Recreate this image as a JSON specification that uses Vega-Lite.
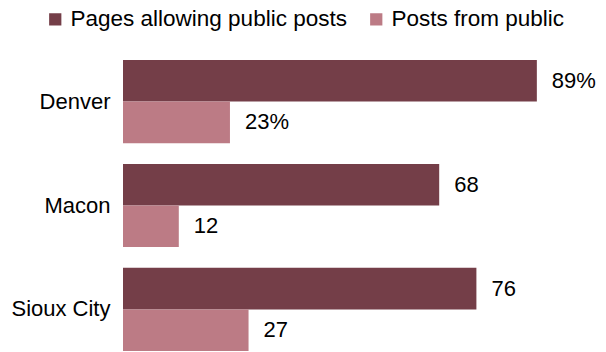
{
  "$schema": "https://vega.github.io/schema/vega-lite/v6.json",
  "autosize": {"type": "none"},
  "padding": {"left": 123, "top": 60, "right": 18, "bottom": 1},
  "width": 465,
  "height": 291,
  "background": "white",
  "data": {
    "values": [
      {"city": "Denver", "series": "Pages allowing public posts", "value": 89, "label": "89%"},
      {"city": "Denver", "series": "Posts from public", "value": 23, "label": "23%"},
      {"city": "Macon", "series": "Pages allowing public posts", "value": 68, "label": "68"},
      {"city": "Macon", "series": "Posts from public", "value": 12, "label": "12"},
      {"city": "Sioux City", "series": "Pages allowing public posts", "value": 76, "label": "76"},
      {"city": "Sioux City", "series": "Posts from public", "value": 27, "label": "27"}
    ]
  },
  "encoding": {
    "y": {
      "field": "city",
      "type": "nominal",
      "sort": ["Denver", "Macon", "Sioux City"],
      "scale": {"paddingInner": 0.2, "paddingOuter": 0},
      "axis": {
        "title": null,
        "domain": false,
        "ticks": false,
        "labelPadding": 13,
        "labelFontSize": 22,
        "labelFont": "Liberation Sans",
        "labelColor": "#000000"
      }
    },
    "yOffset": {
      "field": "series",
      "type": "nominal",
      "sort": ["Pages allowing public posts", "Posts from public"]
    },
    "x": {
      "field": "value",
      "type": "quantitative",
      "scale": {"domain": [0, 100]},
      "axis": null
    }
  },
  "layer": [
    {
      "mark": {"type": "bar"},
      "encoding": {
        "color": {
          "field": "series",
          "type": "nominal",
          "sort": ["Pages allowing public posts", "Posts from public"],
          "scale": {
            "domain": ["Pages allowing public posts", "Posts from public"],
            "range": ["#743E48", "#BC7B85"]
          },
          "legend": {
            "title": null,
            "orient": "none",
            "direction": "horizontal",
            "legendX": -79,
            "legendY": -52,
            "symbolType": "square",
            "symbolSize": 150,
            "symbolStrokeWidth": 0,
            "symbolOpacity": 1,
            "labelFont": "Liberation Sans",
            "labelFontSize": 22.5,
            "labelColor": "#000000",
            "labelOffset": 4,
            "columnPadding": 18,
            "labelLimit": 400
          }
        }
      }
    },
    {
      "mark": {
        "type": "text",
        "align": "left",
        "baseline": "middle",
        "dx": 15,
        "fontSize": 22,
        "font": "Liberation Sans",
        "color": "#000000"
      },
      "encoding": {
        "text": {"field": "label", "type": "nominal"}
      }
    }
  ],
  "config": {"view": {"stroke": null}}
}
